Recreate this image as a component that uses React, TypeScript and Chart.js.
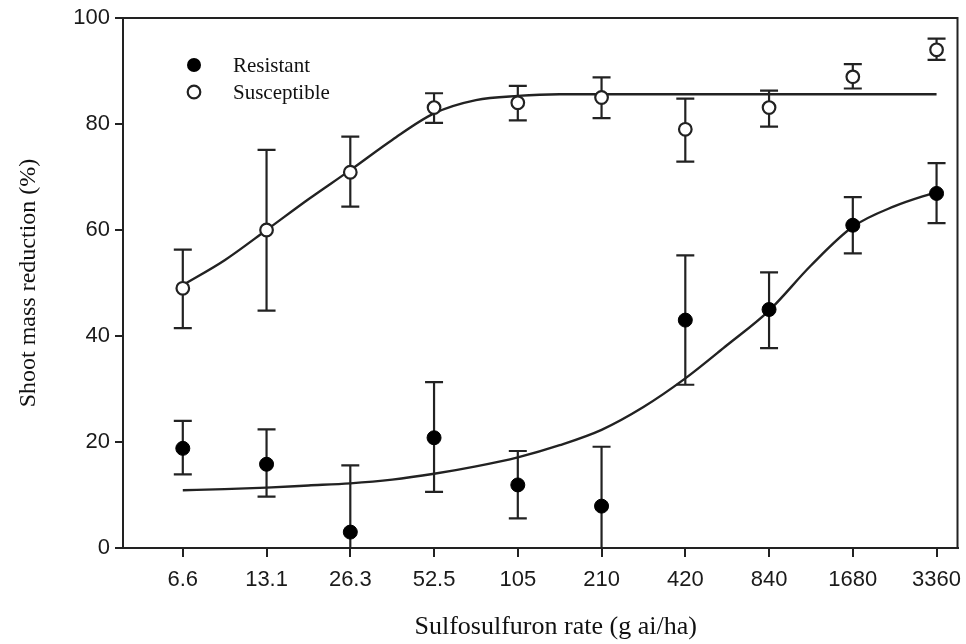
import React, { useEffect, useRef } from 'react';
import { Chart, registerables } from 'chart.js';

Chart.register(...registerables);

// Sulfosulfuron rates (g ai/ha), shown as evenly spaced categories
const rateLabels = ['6.6', '13.1', '26.3', '52.5', '105', '210', '420', '840', '1680', '3360'];
const categoryIndex = [0, 1, 2, 3, 4, 5, 6, 7, 8, 9];

// Resistant biotype: mean and error-bar ends (%)
const resistantMean = [18.8, 15.8, 3.0, 20.8, 11.9, 7.9, 43.0, 45.0, 60.9, 66.9];
const resistantLow = [13.9, 9.7, -9.6, 10.6, 5.6, -3.4, 30.8, 37.7, 55.6, 61.3];
const resistantHigh = [24.0, 22.4, 15.6, 31.3, 18.3, 19.1, 55.2, 52.0, 66.2, 72.6];

// Susceptible biotype: mean and error-bar ends (%)
const susceptibleMean = [49.0, 60.0, 70.9, 83.1, 84.0, 85.0, 79.0, 83.1, 88.9, 94.0];
const susceptibleLow = [41.5, 44.8, 64.4, 80.2, 80.7, 81.1, 72.9, 79.5, 86.7, 92.1];
const susceptibleHigh = [56.3, 75.1, 77.6, 85.8, 87.2, 88.8, 84.8, 86.3, 91.3, 96.1];

// Fitted curves at category positions
const fitPositions = [0, 0.5, 1, 1.5, 2, 2.5, 3, 3.5, 4, 4.5, 5, 5.5, 6, 6.5, 7, 7.5, 8, 8.5, 9];
const resistantFit = [10.9, 11.1, 11.4, 11.8, 12.2, 12.9, 14.0, 15.4, 17.1, 19.4, 22.3, 26.6, 32.0, 38.3, 44.8, 53.3, 60.6, 64.5, 67.2];
const susceptibleFit = [49.6, 54.3, 60.0, 65.8, 71.3, 77.0, 82.0, 84.5, 85.3, 85.6, 85.6, 85.6, 85.6, 85.6, 85.6, 85.6, 85.6, 85.6, 85.6];

const yTicks = [0, 20, 40, 60, 80, 100];
const xTitle = 'Sulfosulfuron rate (g ai/ha)';
const yTitle = 'Shoot mass reduction (%)';

const INK = '#222';
const SERIF = '"Liberation Serif", "Times New Roman", serif';
const SANS = '"Liberation Sans", Arial, sans-serif';

const errorBarsAndFrame = {
  id: 'errorBarsAndFrame',
  beforeDatasetsDraw(chart: any) {
    const { ctx, chartArea, scales } = chart;
    const x = scales.x;
    const y = scales.y;
    ctx.save();
    ctx.beginPath();
    ctx.rect(chartArea.left, chartArea.top, chartArea.right - chartArea.left, chartArea.bottom - chartArea.top);
    ctx.clip();
    ctx.strokeStyle = INK;
    ctx.lineWidth = 2.2;
    const cap = 9;
    const draw = (lo: number[], hi: number[]) => {
      lo.forEach((l, i) => {
        const px = x.getPixelForValue(categoryIndex[i]);
        const p1 = y.getPixelForValue(l);
        const p2 = y.getPixelForValue(hi[i]);
        ctx.beginPath();
        ctx.moveTo(px, p1);
        ctx.lineTo(px, p2);
        ctx.moveTo(px - cap, p1);
        ctx.lineTo(px + cap, p1);
        ctx.moveTo(px - cap, p2);
        ctx.lineTo(px + cap, p2);
        ctx.stroke();
      });
    };
    draw(resistantLow, resistantHigh);
    draw(susceptibleLow, susceptibleHigh);
    ctx.restore();
  },
  afterDraw(chart: any) {
    const { ctx, chartArea, scales } = chart;
    ctx.save();
    ctx.strokeStyle = INK;
    ctx.lineWidth = 2;
    ctx.beginPath();
    ctx.moveTo(chartArea.left, chartArea.top);
    ctx.lineTo(chartArea.right, chartArea.top);
    ctx.lineTo(chartArea.right, chartArea.bottom);
    ctx.stroke();

    // x-axis title, centred under the tick range
    const xs = scales.x;
    const cx = (xs.getPixelForValue(categoryIndex[0]) + xs.getPixelForValue(categoryIndex[categoryIndex.length - 1])) / 2 - 4;
    ctx.fillStyle = '#111';
    ctx.font = `26px ${SERIF}`;
    ctx.textAlign = 'center';
    ctx.textBaseline = 'middle';
    ctx.fillText(xTitle, cx, chart.height - 17);

    // legend
    const mx = chartArea.left + 71;
    const tx = chartArea.left + 110;
    const y1 = chartArea.top + 47;
    const y2 = chartArea.top + 74;
    ctx.fillStyle = '#000';
    ctx.beginPath();
    ctx.arc(mx, y1, 7, 0, Math.PI * 2);
    ctx.fill();
    ctx.beginPath();
    ctx.arc(mx, y2, 6.3, 0, Math.PI * 2);
    ctx.fillStyle = '#fff';
    ctx.fill();
    ctx.lineWidth = 2.2;
    ctx.strokeStyle = INK;
    ctx.stroke();
    ctx.fillStyle = '#111';
    ctx.font = `21px ${SERIF}`;
    ctx.textAlign = 'left';
    ctx.textBaseline = 'middle';
    ctx.fillText('Resistant', tx, y1 + 1);
    ctx.fillText('Susceptible', tx, y2 + 1);
    ctx.restore();
  },
};

export default function App() {
  const canvasRef = useRef<HTMLCanvasElement | null>(null);

  useEffect(() => {
    document.body.style.margin = '0';
    const canvas = canvasRef.current;
    if (!canvas) return;
    const chart = new Chart(canvas, {
      type: 'scatter',
      data: {
        datasets: [
          {
            label: 'Resistant',
            data: resistantMean.map((v, i) => ({ x: categoryIndex[i], y: v })),
            pointRadius: 7,
            pointBackgroundColor: '#000',
            pointBorderColor: '#000',
            pointBorderWidth: 1,
            showLine: false,
          },
          {
            label: 'Susceptible',
            data: susceptibleMean.map((v, i) => ({ x: categoryIndex[i], y: v })),
            pointRadius: 6.3,
            pointBackgroundColor: '#fff',
            pointBorderColor: INK,
            pointBorderWidth: 2.2,
            showLine: false,
          },
          {
            type: 'line',
            label: 'Resistant fit',
            data: resistantFit.map((v, i) => ({ x: fitPositions[i], y: v })),
            borderColor: INK,
            borderWidth: 2.4,
            pointRadius: 0,
            fill: false,
            cubicInterpolationMode: 'monotone',
            showLine: true,
          },
          {
            type: 'line',
            label: 'Susceptible fit',
            data: susceptibleFit.map((v, i) => ({ x: fitPositions[i], y: v })),
            borderColor: INK,
            borderWidth: 2.4,
            pointRadius: 0,
            fill: false,
            cubicInterpolationMode: 'monotone',
            showLine: true,
          },
        ] as any,
      },
      options: {
        animation: false,
        responsive: false,
        devicePixelRatio: 1,
        layout: { padding: { top: 18, right: 6, left: 0, bottom: 0 } },
        plugins: {
          legend: { display: false },
          tooltip: { enabled: false },
        },
        scales: {
          x: {
            type: 'linear',
            min: -0.714,
            max: 9.25,
            afterBuildTicks: (scale: any) => {
              scale.ticks = categoryIndex.map((v) => ({ value: v }));
            },
            afterFit: (scale: any) => {
              scale.height = 96;
              scale.paddingLeft = 0;
              scale.paddingRight = 0;
            },
            ticks: {
              autoSkip: false,
              maxRotation: 0,
              padding: 10,
              color: '#1a1a1a',
              font: { family: SANS, size: 22 },
              callback: (v: any) => rateLabels[Math.round(Number(v))] ?? '',
            },
            grid: { drawOnChartArea: false, drawTicks: true, tickLength: 9, color: INK, lineWidth: 2 },
            border: { display: true, color: INK, width: 2 },
            title: { display: false, text: xTitle },
          },
          y: {
            type: 'linear',
            min: 0,
            max: 100,
            afterBuildTicks: (scale: any) => {
              scale.ticks = yTicks.map((v) => ({ value: v }));
            },
            afterFit: (scale: any) => {
              scale.width = 123;
              scale.paddingTop = 0;
              scale.paddingBottom = 0;
            },
            ticks: {
              padding: 5,
              color: '#1a1a1a',
              font: { family: SANS, size: 22 },
            },
            grid: { drawOnChartArea: false, drawTicks: true, tickLength: 8, color: INK, lineWidth: 2 },
            border: { display: true, color: INK, width: 2 },
            title: {
              display: true,
              text: yTitle,
              color: '#111',
              font: { family: SERIF, size: 24 },
              padding: { top: 14, bottom: 0 },
            },
          },
        },
      },
      plugins: [errorBarsAndFrame],
    });
    return () => chart.destroy();
  }, []);

  return <canvas ref={canvasRef} width={966} height={644} style={{ display: 'block' }} />;
}
